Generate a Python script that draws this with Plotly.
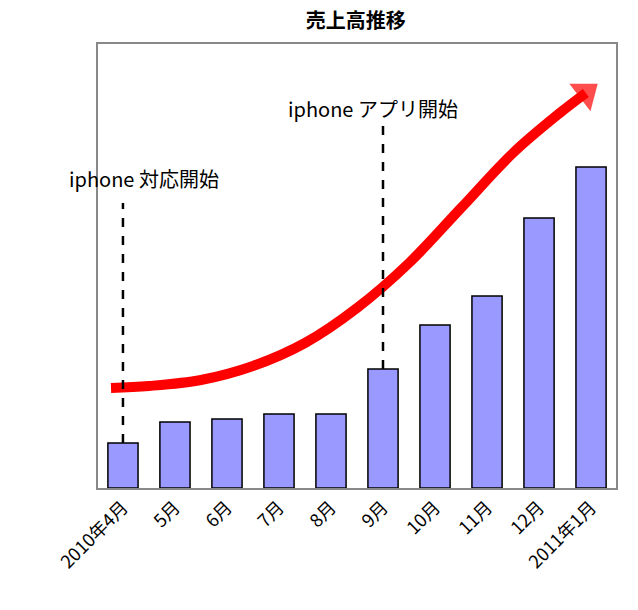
import plotly.graph_objects as go

months = ["2010年4月", "5月", "6月", "7月", "8月", "9月", "10月", "11月", "12月", "2011年1月"]
sales = [45, 66, 69, 74, 74, 119, 163, 192, 270, 321]
trend_x = [-0.23, 0.5, 1.5, 2.5, 3.5, 4.5, 5.5, 6.5, 7.5, 8.4, 8.9]
trend_y = [100, 102, 108, 122, 145, 180, 225, 280, 335, 375, 395]

font = "Noto Sans CJK JP"
fig = go.Figure()
fig.add_bar(x=list(range(10)), y=sales, width=0.58,
            marker=dict(color="#9999ff", line=dict(color="black", width=1.5)))
sizes = [0] * (len(trend_x) - 1) + [30]
fig.add_scatter(x=trend_x, y=trend_y, mode="lines+markers", line=dict(color="red", width=10, shape="spline"),
                marker=dict(symbol="triangle-up", size=sizes, color="red", angleref="previous",
                            line=dict(width=0)),
                hoverinfo="skip")
fig.add_shape(type="line", x0=0, x1=0, y0=sales[0], y1=285, line=dict(color="black", width=2.5, dash="dash"))
fig.add_shape(type="line", x0=5, x1=5, y0=sales[5], y1=365, line=dict(color="black", width=2.5, dash="dash"))
fig.add_annotation(x=0.4, y=310, text="iphone 対応開始", showarrow=False, font=dict(size=20, color="black", family=font))
fig.add_annotation(x=4.8, y=380, text="iphone アプリ開始", showarrow=False, font=dict(size=20, color="black", family=font))

fig.update_layout(
    width=638, height=610, margin=dict(l=90, r=30, t=36, b=130),
    plot_bgcolor="white", paper_bgcolor="white", showlegend=False,
    title=dict(text="<b>売上高推移</b>", x=0.545, y=0.99, xanchor="center", yanchor="top",
               font=dict(size=20, family=font, color="black")),
    font=dict(family=font, color="black"),
)
fig.update_xaxes(range=[-0.48, 9.48], tickvals=list(range(10)), ticktext=months, tickangle=-45,
                 showline=True, linecolor="#888", mirror=True, linewidth=1.5, showgrid=False,
                 automargin=False, tickfont=dict(size=18, family=font))
fig.update_yaxes(range=[0, 444], showticklabels=False, showline=True, linecolor="#888", mirror=True,
                 linewidth=1.5, showgrid=False, zeroline=False, ticks="", automargin=False)
fig.write_html("out.html")
